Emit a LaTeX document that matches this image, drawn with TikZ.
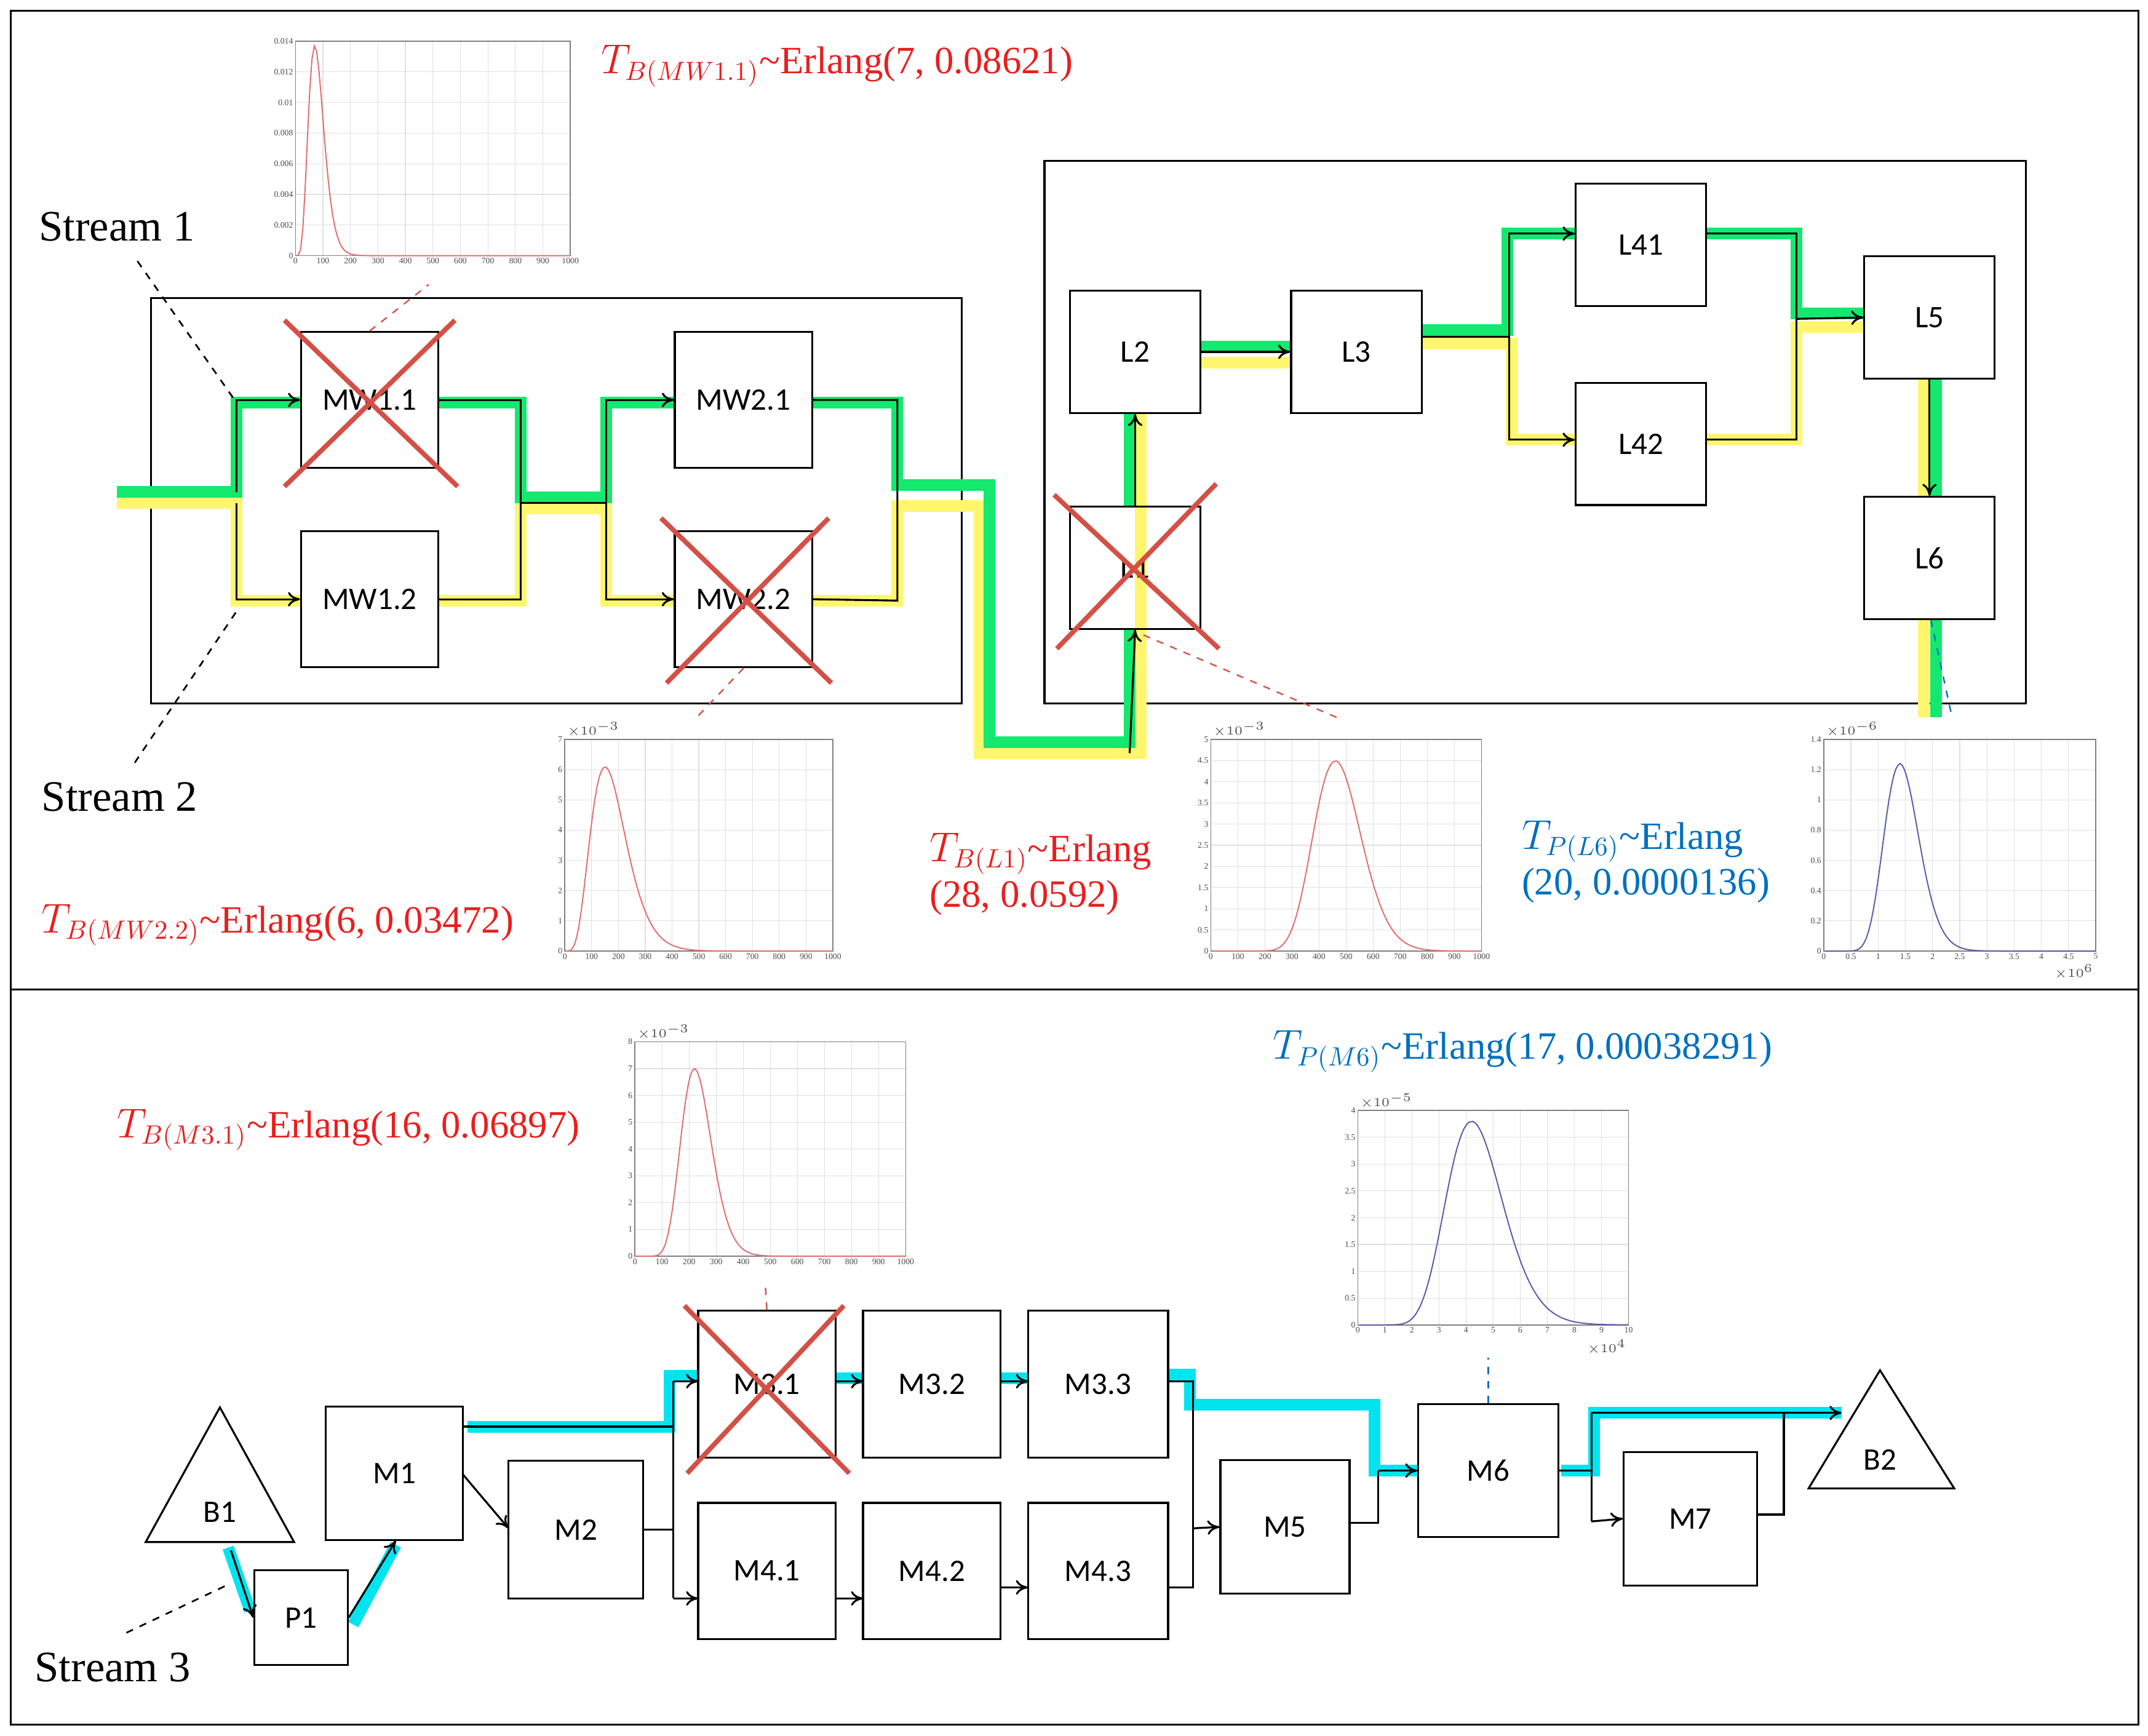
\documentclass[tikz,border=0pt]{standalone}
\usepackage{fontspec}
\setmainfont{Liberation Serif}
\newfontfamily\nodefont{Carlito}
\usetikzlibrary{arrows.meta}
\definecolor{grn}{RGB}{20,232,110}
\definecolor{ylw}{RGB}{255,246,110}
\definecolor{cyn}{RGB}{0,228,240}
\definecolor{xred}{RGB}{212,80,70}
\definecolor{lred}{RGB}{235,30,30}
\definecolor{lblue}{RGB}{0,112,192}
\definecolor{cred}{RGB}{225,110,110}
\definecolor{cblue}{RGB}{90,90,170}
\newcommand\erlplot[9]{%
 \begin{scope}
 \foreach \i in {1,...,9}{\draw[black!12,line width=0.3pt] ({#1+#3*\i/10},#2) -- ({#1+#3*\i/10},{#2+#4});}
 \foreach \j in {1,...,#5}{\draw[black!12,line width=0.3pt] (#1,{#2+#4-#4*\j/#5}) -- ({#1+#3},{#2+#4-#4*\j/#5});}
 \draw[black!50,line width=0.4pt] (#1,#2) rectangle ({#1+#3},{#2+#4});
 \draw[#9,line width=0.5pt] plot[domain=0.02:{1/#6},samples=120,variable=\u]
   ({#1+#3*#6*\u},{#2+#4-#4*#8*exp(max((#7-1)*(ln(\u)-\u+1),-20))});
 \end{scope}}
\newcommand\xtl[5]{\foreach \l [count=\i from 0] in {#5}{\node[tick,anchor=north] at ({#1+#3*\i/#4},#2) {\l};}}
\newcommand\ytl[5]{\foreach \l [count=\i from 0] in {#5}{\node[tick,anchor=east] at (#1,{#2-#3*\i/#4}) {\l};}}
\begin{document}
\begin{tikzpicture}[x=0.02cm,y=-0.02cm,
 box/.style 2 args={draw,line width=0.8pt,minimum width=#1*0.02cm,minimum height=#2*0.02cm,inner sep=0pt,font=\nodefont\fontsize{13}{13}\selectfont},
 tick/.style={font=\fontsize{3.5}{3.5}\selectfont,inner sep=0.8pt,text=black!70},
 gpath/.style={grn,line width=0.17cm},
 ypath/.style={ylw,line width=0.17cm},
 cpath/.style={cyn,line width=0.17cm},
 arr/.style={-{To[length=5pt,width=6pt]},line width=0.8pt},
 ln/.style={line width=0.8pt},
 xcross/.style={xred,line width=0.07cm},
 rdash/.style={xred,dashed,line width=0.6pt},
 bdash/.style={lblue,dashed,line width=0.6pt},
 kdash/.style={dashed,line width=0.7pt},
 lbl/.style={anchor=west,font=\fontsize{16}{19}\selectfont,inner sep=0pt},
 stream/.style={anchor=west,font=\fontsize{18}{20}\selectfont,inner sep=0pt}]
\useasboundingbox (0,0) rectangle (1563,1263);
\draw[line width=0.8pt] (8,8) rectangle (1556,1255);
\draw[line width=0.8pt] (8,720) -- (1556,720);
\draw[line width=0.8pt] (110,217) rectangle (700,512);
\draw[line width=0.8pt] (760,117) rectangle (1474,512);
% colored paths top
\draw[ypath] (85,366) -- (172,366) -- (172,437) -- (219,437);
\draw[ypath] (319,437) -- (379,437) -- (379,370) -- (441,370) -- (441,437) -- (491,437);
\draw[ypath] (591,437) -- (653,437) -- (653,368) -- (713,368) -- (713,548) -- (830,548) -- (830,301);
\draw[ypath] (874,264) -- (940,264);
\draw[ypath] (1035,250) -- (1100,250) -- (1100,320) -- (1147,320);
\draw[ypath] (1242,320) -- (1307,320) -- (1307,238) -- (1357,238);
\draw[ypath] (1400,276) -- (1400,362);
\draw[ypath] (1400,451) -- (1400,522);
\draw[gpath] (85,358) -- (172,358) -- (172,293) -- (219,293);
\draw[gpath] (319,293) -- (379,293) -- (379,362) -- (441,362) -- (441,293) -- (491,293);
\draw[gpath] (591,293) -- (653,293) -- (653,353) -- (720,353) -- (720,540) -- (822,540) -- (822,458);
\draw[gpath] (822,369) -- (822,301);
\draw[gpath] (874,252) -- (940,252);
\draw[gpath] (1035,240) -- (1097,240) -- (1097,170) -- (1147,170);
\draw[gpath] (1242,170) -- (1307,170) -- (1307,228) -- (1357,228);
\draw[gpath] (1409,276) -- (1409,362);
\draw[gpath] (1409,451) -- (1409,522);
% boxes top
\node[box={100}{99}] (MW11) at (269,291) {MW1.1};
\node[box={100}{99}] (MW12) at (269,436) {MW1.2};
\node[box={100}{99}] (MW21) at (541,291) {MW2.1};
\node[box={100}{99}] (MW22) at (541,436) {MW2.2};
\node[box={95}{89}] (L2) at (826,256) {L2};
\node[box={95}{89}] (L3) at (987,256) {L3};
\node[box={95}{89}] (L41) at (1194,178) {L41};
\node[box={95}{89}] (L42) at (1194,323) {L42};
\node[box={95}{89}] (L5) at (1404,231) {L5};
\node[box={95}{89}] (L6) at (1404,406) {L6};
\node[box={95}{89}] (L1) at (826,413) {L1};
% black thin arrows top
\draw[arr] (172,358) |- (MW11.west);
\draw[arr] (172,366) |- (MW12.west);
\draw[ln] (MW11.east) -- (379,291) -- (379,366) -- (441,366);
\draw[ln] (MW12.east) -- (379,436) -- (379,366);
\draw[arr] (441,366) |- (MW21.west);
\draw[arr] (441,366) |- (MW22.west);
\draw[ln] (MW21.east) -- (653,291) -- (653,437) -- (MW22.east);
\draw[arr] (874,256) -- (L3.west);
\draw[ln] (L3.east |- 0,245) -- (1098,245);
\draw[arr] (1098,245) -- (1098,170) -- (L41.west |- 0,170);
\draw[arr] (1098,245) -- (1098,320) -- (L42.west |- 0,320);
\draw[ln] (L41.east |- 0,170) -- (1307,170) -- (1307,320) -- (L42.east |- 0,320);
\draw[arr] (1307,232) -- (L5.west);
\draw[arr] (L5.south) -- (L6.north);
\draw[arr] (822,548) -- (L1.south);
\draw[arr] (L1.north) -- (L2.south);
% crosses
\draw[xcross] (207,233) -- (333,354) (331,233) -- (207,354);
\draw[xcross] (481,377) -- (605,497) (603,377) -- (485,497);
\draw[xcross] (767,360) -- (887,472) (885,352) -- (769,472);
% plots top
\erlplot{215}{30}{200}{156}{7}{0.07}{7}{0.98}{cred}
\xtl{215}{186}{200}{10}{0,100,200,300,400,500,600,700,800,900,1000}
\ytl{215}{186}{156}{7}{0,0.002,0.004,0.006,0.008,0.01,0.012,0.014}
\erlplot{411}{538}{195}{154}{7}{0.15}{6}{0.87}{cred}
\xtl{411}{692}{195}{10}{0,100,200,300,400,500,600,700,800,900,1000}
\ytl{411}{692}{154}{7}{0,1,2,3,4,5,6,7}
\node[tick,anchor=south west] at (411,538) {$\times10^{-3}$};
\erlplot{881}{538}{197}{154}{10}{0.46}{28}{0.9}{cred}
\xtl{881}{692}{197}{10}{0,100,200,300,400,500,600,700,800,900,1000}
\ytl{881}{692}{154}{10}{0,0.5,1,1.5,2,2.5,3,3.5,4,4.5,5}
\node[tick,anchor=south west] at (881,538) {$\times10^{-3}$};
\erlplot{1327}{538}{198}{154}{7}{0.28}{20}{0.886}{cblue}
\xtl{1327}{692}{198}{10}{0,0.5,1,1.5,2,2.5,3,3.5,4,4.5,5}
\ytl{1327}{692}{154}{7}{0,0.2,0.4,0.6,0.8,1,1.2,1.4}
\node[tick,anchor=south west] at (1327,538) {$\times10^{-6}$};
\node[tick,anchor=north east] at (1525,700) {$\times10^{6}$};
% dashed leaders top
\draw[rdash] (MW11.north) -- (312,207);
\draw[rdash] (MW22.south) -- (506,523);
\draw[rdash] (832,462) -- (975,523);
\draw[bdash] (1405,451) -- (1420,520);
\draw[kdash] (100,190) -- (170,290);
\draw[kdash] (98,555) -- (172,445);
% labels top
\node[lbl,text=lred] at (437,48) {$T_{B(MW1.1)}$\textasciitilde Erlang(7, 0.08621)};
\node[lbl,text=lred] at (30,673) {$T_{B(MW2.2)}$\textasciitilde Erlang(6, 0.03472)};
\node[lbl,text=lred,align=left] at (676,636) {$T_{B(L1)}$\textasciitilde Erlang\\(28, 0.0592)};
\node[lbl,text=lblue,align=left] at (1107,627) {$T_{P(L6)}$\textasciitilde Erlang\\(20, 0.0000136)};
\node[stream] at (28,165) {Stream 1};
\node[stream] at (30,580) {Stream 2};
% ---------- bottom ----------
\draw[cpath] (340,1038) -- (487,1038) -- (487,1001) -- (508,1001);
\draw[cpath] (608,1003) -- (628,1003);
\draw[cpath] (728,1003) -- (748,1003);
\draw[cpath] (850,1000) -- (866,1000) -- (866,1022) -- (1000,1022) -- (1000,1070) -- (1032,1070);
\draw[cpath] (1136,1070) -- (1160,1070) -- (1160,1028) -- (1340,1028);
\draw[cpath] (166,1126) -- (182,1172);
\draw[cpath] (257,1182) -- (288,1124);
\node[box={68}{69}] (P1) at (219,1177) {P1};
\node[box={100}{97}] (M1) at (287,1072) {M1};
\node[box={98}{100}] (M2) at (419,1113) {M2};
\node[box={100}{107}] (M31) at (558,1007) {M3.1};
\node[box={100}{107}] (M32) at (678,1007) {M3.2};
\node[box={102}{107}] (M33) at (799,1007) {M3.3};
\node[box={100}{99}] (M41) at (558,1143) {M4.1};
\node[box={100}{99}] (M42) at (678,1143) {M4.2};
\node[box={102}{99}] (M43) at (799,1143) {M4.3};
\node[box={94}{97}] (M5) at (935,1111) {M5};
\node[box={102}{97}] (M6) at (1083,1070) {M6};
\node[box={97}{97}] (M7) at (1230,1105) {M7};
\draw[line width=0.8pt] (160,1024) -- (214,1122) -- (106,1122) -- cycle;
\node[font=\nodefont\fontsize{13}{13}\selectfont] (B1) at (160,1100) {B1};
\draw[line width=0.8pt] (1368,997) -- (1422,1083) -- (1316,1083) -- cycle;
\node[font=\nodefont\fontsize{13}{13}\selectfont] (B2) at (1368,1062) {B2};
\coordinate (b1o) at (168,1128);
\coordinate (b2i) at (1340,1028);
\draw[arr] (b1o) -- (P1.west);
\draw[arr] (P1.east) -- (288,1121);
\draw[arr] (337,1073) -- (370,1112);
\draw[ln] (M1.east |- 0,1038) -- (490,1038);
\draw[ln] (M2.east) -- (490,1113);
\draw[ln] (490,1005) -- (490,1163);
\draw[arr] (490,1005) -- (508,1005);
\draw[arr] (490,1163) -- (508,1163);
\draw[arr] (608,1005) -- (628,1005);
\draw[arr] (728,1005) -- (748,1005);
\draw[arr] (608,1163) -- (628,1163);
\draw[arr] (728,1155) -- (748,1155);
\draw[ln] (850,1005) -- (868,1005) -- (868,1155) -- (850,1155);
\draw[arr] (868,1112) -- (M5.west);
\draw[ln] (982,1108) -- (1003,1108) -- (1003,1070);
\draw[arr] (1003,1070) -- (M6.west);
\draw[ln] (M6.east) -- (1158,1070);
\draw[ln] (1158,1028) -- (1158,1107);
\draw[arr] (1158,1107) -- (M7.west);
\draw[arr] (1158,1028) -- (b2i);
\draw[ln] (M7.east |- 0,1102) -- (1298,1102) -- (1298,1028);
\draw[xcross] (498,950) -- (618,1072) (614,950) -- (500,1072);
\erlplot{462}{758}{197}{156}{8}{0.22}{16}{0.875}{cred}
\xtl{462}{914}{197}{10}{0,100,200,300,400,500,600,700,800,900,1000}
\ytl{462}{914}{156}{8}{0,1,2,3,4,5,6,7,8}
\node[tick,anchor=south west] at (462,758) {$\times10^{-3}$};
\erlplot{988}{808}{197}{156}{8}{0.42}{17}{0.95}{cblue}
\xtl{988}{964}{197}{10}{0,1,2,3,4,5,6,7,8,9,10}
\ytl{988}{964}{156}{8}{0,0.5,1,1.5,2,2.5,3,3.5,4}
\node[tick,anchor=south west] at (988,808) {$\times10^{-5}$};
\node[tick,anchor=north east] at (1185,973) {$\times10^{4}$};
\draw[rdash] (M31.north) -- (557,937);
\draw[bdash] (M6.north) -- (1083,988);
\draw[kdash] (92,1188) -- (168,1152);
\node[lbl,text=lred] at (85,822) {$T_{B(M3.1)}$\textasciitilde Erlang(16, 0.06897)};
\node[lbl,text=lblue] at (926,765) {$T_{P(M6)}$\textasciitilde Erlang(17, 0.00038291)};
\node[stream] at (25,1213) {Stream 3};
\end{tikzpicture}
\end{document}
